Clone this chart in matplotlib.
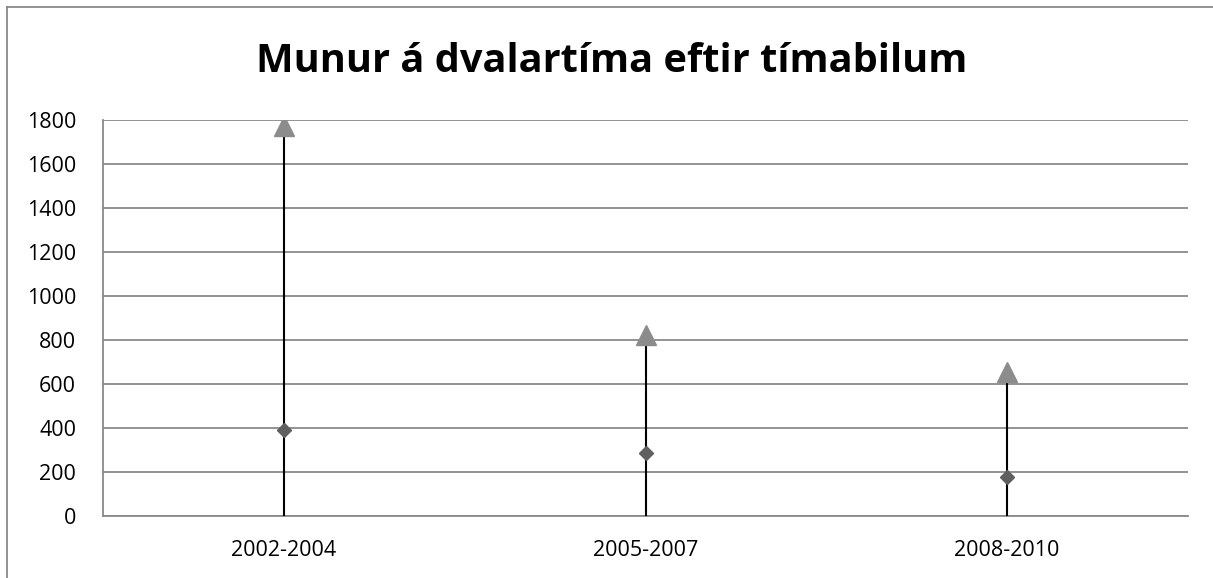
import matplotlib
matplotlib.use("Agg")
from matplotlib import pyplot as plt
from matplotlib.lines import Line2D

periods = ["2002-2004", "2005-2007", "2008-2010"]
high_values = [1770, 822, 654]
low_values = [390, 288, 177]
y_ticks = [0, 200, 400, 600, 800, 1000, 1200, 1400, 1600, 1800]
title = "Munur á dvalartíma eftir tímabilum"

plt.rcParams['font.family'] = ['Open Sans', 'DejaVu Sans']

fig = plt.figure(figsize=(12.13, 5.78), dpi=100)
ax = fig.add_axes([103 / 1213, 62 / 578, 1085 / 1213, 396.5 / 578])

x = list(range(len(periods)))

# vertical lines from 0 up to the high value
ax.vlines(x, 0, high_values, color='black', linewidth=1.5, zorder=3)
ax.plot(x, high_values, linestyle='none', marker='^', markersize=15,
        color='#8c8c8c', zorder=4)
ax.plot(x, low_values, linestyle='none', marker='D', markersize=7.5,
        color='#5f5f5f', zorder=4)

ax.set_xlim(-0.5, len(periods) - 0.5)
ax.set_ylim(0, 1800)
ax.set_yticks(y_ticks)
ax.set_xticks(x)
ax.set_xticklabels(periods)
ax.yaxis.grid(True, color='#8a8a8a', linewidth=1.3)
ax.set_axisbelow(True)

for side in ['top', 'right']:
    ax.spines[side].set_visible(False)
for side in ['left', 'bottom']:
    ax.spines[side].set_color('#8a8a8a')
    ax.spines[side].set_linewidth(1.3)

ax.tick_params(axis='both', length=0, labelsize=15.5, colors='black')
ax.tick_params(axis='y', pad=19.4)
ax.tick_params(axis='x', pad=17)

fig.text(0.5 + 5 / 1213, 1 - 61 / 578, title, ha='center', va='center',
         fontsize=28.6, fontweight='bold')

# outer chart border (only top and left visible in the crop)
fig.add_artist(Line2D([7 / 1213, 7 / 1213], [0, 1 - 7 / 578], transform=fig.transFigure,
                      color='#8a8a8a', linewidth=1.3))
fig.add_artist(Line2D([7 / 1213, 1], [1 - 7 / 578, 1 - 7 / 578], transform=fig.transFigure,
                      color='#8a8a8a', linewidth=1.3))

fig.savefig("out.png", dpi=100)
